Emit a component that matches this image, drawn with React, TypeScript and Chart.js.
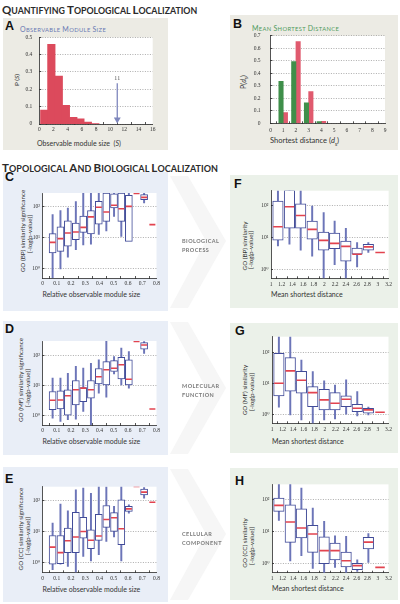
import React, { useEffect, useRef } from "react";
import { Chart, registerables } from "chart.js";
Chart.register(...registerables);

const SANS = "Lato, 'Open Sans', sans-serif";
const SERIF = "'Liberation Serif', 'DejaVu Serif', serif";
const LETTER = "'Liberation Sans', Arial, sans-serif";

// ---------------- data ----------------
// Panel A: observable module size histogram (random expectation)
const A_SIZE = [0.7, 1.7, 2.75, 3.75, 4.8, 5.8, 6.85, 7.9];
const A_PROB = [0.08, 0.46, 0.276, 0.107, 0.038, 0.03, 0.011, 0.003];
const A_MS_SIZE = 11;
const A_ARROW_TOP = 0.235;
const A_ARROW_TIP = 0.026;

// Panel B: mean shortest distance
const B_DIST = [1, 2, 3, 4];
const B_MS = [0.336, 0.493, 0.163, 0.013];
const B_RANDOM = [0.085, 0.653, 0.253, 0.016];

// log-axis ticks
const LOG_TICKS = [1, 10, 100];
const LOG_LABELS = ["10\u2070", "10\u00b9", "10\u00b2"];

// Panels C, D, E: relative observable module size positions
const REL_X = [0.071, 0.126, 0.178, 0.234, 0.286, 0.34, 0.395, 0.448, 0.502, 0.553, 0.606, 0.66, 0.713, 0.771];

const C_LO = [0.4, 1.0, 2.4, 4.2, 6.0, 6.3, 13, 17, 50, 11.3, 7.8, null, 135, null];
const C_Q1 = [3.3, 3.7, 5.4, 8.8, 15.2, 13.4, 28, 34.5, 93, 34.5, 7.8, null, 173, null];
const C_MED = [7.2, 9.5, 14.5, 15.6, 22, 48, 98, 69, 114, 88, 105, 275, 205, 27];
const C_Q3 = [13.8, 23, 36, 30, 51, 76, 152, 283, 265, 283, 237, null, 250, null];
const C_HI = [57, 76, 93, 150, 400, 400, 400, 400, 400, 400, 300, null, 283, null];

const D_LO = [0.85, 0.66, 0.75, 0.78, 1.4, 0.4, 5.7, 4.2, 25, 10.8, 8.4, null, 120, null];
const D_Q1 = [1.6, 1.7, 1.07, 2.3, 3.0, 3.9, 11.6, 10.8, 30, 17, 10.8, null, 164, null];
const D_MED = [3.3, 3.4, 4.7, 7.4, 8.4, 7.4, 20, 34, 38.5, 50, 16.6, 300, 228, 1.7];
const D_Q3 = [6.5, 6.8, 7.4, 15, 8.8, 15, 37.5, 64, 69, 89, 73, null, 272, null];
const D_HI = [18, 18, 26, 44, 38.5, 56, 73, 400, 94, 178, 138, null, 295, null];

const E_LO = [0.57, 0.87, 0.73, 0.4, 1.55, 1.1, 1.75, 4.7, 6.6, 1.1, 39, null, 120, null];
const E_Q1 = [0.87, 0.89, 2.05, 2.05, 6.1, 2.75, 5.1, 13.5, 10, 3.7, 45, null, 155, null];
const E_MED = [3.1, 2.05, 5.0, 6.6, 10, 5.2, 7.1, 24.5, 28, 12.2, 54, 288, 190, 89];
const E_Q3 = [7.4, 7.4, 12.8, 42, 29, 11.3, 36, 70, 41, 107, 65, null, 240, null];
const E_HI = [18.6, 77, 47, 225, 255, 175, 340, 285, 65, 325, 73, null, 268, null];

// Panels F, G, H: mean shortest distance positions
const DIST_X = [1.13, 1.345, 1.555, 1.77, 1.985, 2.19, 2.4, 2.61, 2.82, 3.04];

const F_LO = [5.5, 6.2, 4.0, 2.6, 0.4, 1.4, 0.4, 1.2, 3.4, null];
const F_Q1 = [8.4, 19.8, 19.8, 8.9, 4.0, 4.5, 1.8, 3.0, 4.0, null];
const F_MED = [22, 95, 50, 18.3, 8.2, 6.6, 5.3, 3.0, 5.1, 3.4];
const F_Q3 = [144, 310, 118, 33.6, 15.1, 14, 7.8, 4.7, 6.2, null];
const F_HI = [400, 400, 340, 100, 61.6, 33.6, 19.8, 6.95, 7.0, null];

const G_LO = [1.7, 0.95, 0.66, 0.4, 0.66, 0.7, 1.0, 0.88, 0.95, null];
const G_Q1 = [3.9, 5.6, 4.8, 1.77, 1.38, 1.38, 1.77, 1.22, 1.08, null];
const G_MED = [10, 25, 12.5, 5.0, 2.9, 2.27, 3.05, 1.56, 1.38, 1.16];
const G_Q3 = [93, 67, 24.4, 7.8, 6.4, 5.0, 3.9, 2.1, 1.56, null];
const G_HI = [400, 400, 56, 24, 11.9, 8.8, 12.8, 5.4, 1.7, null];

const H_LO = [22, 1.2, 1.75, 0.7, 0.4, 0.75, 0.4, 0.56, 1.07, null];
const H_Q1 = [42, 4.5, 6.2, 2.2, 0.97, 1.27, 0.77, 0.63, 2.8, null];
const H_MED = [65, 19.6, 12.7, 8.25, 2.5, 2.5, 1.2, 0.85, 4.6, 0.75];
const H_Q3 = [110, 68, 51, 15.4, 6.8, 4.3, 2.25, 1.0, 6.5, null];
const H_HI = [300, 300, 225, 53, 20.5, 7.3, 7.0, 1.28, 8.5, null];

// ---------------- styles ----------------
const AXIS_C = "#2a2a2a";
const GRID_C = "#8a8a8a";
const TICK_C = "#333";
const BOX_C = "#414b98";
const WHISK_C = "#6c75b8";
const MED_C = "#e2434f";
const HIST_C = "#dc4a5c";
const RAND_C = "#e05a6e";
const MS_GREEN = "#3f8f4a";
const MS_BLUE = "#6a72b3";
const ARROW_C = "#7f87bd";

type Geo = { cx: number; cy: number; cw: number; ch: number; l: number; t: number; r: number; b: number };

const GEO: Record<string, Geo> = {
  A: { cx: 18, cy: 30, cw: 142, ch: 104, l: 39.3, t: 37.3, r: 152.7, b: 124 },
  B: { cx: 246, cy: 28, cw: 146, ch: 106, l: 270.5, t: 35.7, r: 385, b: 123.3 },
  C: { cx: 28, cy: 186, cw: 136, ch: 102, l: 42.5, t: 193, r: 156.5, b: 278 },
  D: { cx: 28, cy: 334, cw: 136, ch: 101, l: 42.5, t: 341, r: 156.5, b: 425 },
  E: { cx: 28, cy: 480, cw: 136, ch: 102, l: 42.5, t: 486.7, r: 156.5, b: 572.3 },
  F: { cx: 254, cy: 184, cw: 141, ch: 104, l: 271, t: 190.7, r: 389, b: 278.3 },
  G: { cx: 254, cy: 330, cw: 141, ch: 103, l: 272, t: 336.7, r: 388.5, b: 423.3 },
  H: { cx: 254, cy: 478, cw: 141, ch: 104, l: 272, t: 484.3, r: 388.5, b: 572.7 },
};

const plotBg = {
  id: "plotBg",
  beforeDraw(chart: any) {
    const { ctx, chartArea } = chart;
    if (!chartArea) return;
    ctx.save();
    ctx.fillStyle = "#ffffff";
    ctx.fillRect(chartArea.left, chartArea.top, chartArea.right - chartArea.left, chartArea.bottom - chartArea.top);
    ctx.restore();
  },
};

const tickFont = { family: SERIF, size: 5.5 };

function axisX(g: Geo, min: number, max: number, step: number, pad: number, fmt: (v: number) => string) {
  return {
    type: "linear",
    min,
    max,
    offset: false,
    ticks: { stepSize: step, autoSkip: false, maxRotation: 0, minRotation: 0, padding: pad, color: TICK_C, font: tickFont, callback: (v: any) => fmt(Number(v)) },
    grid: { drawOnChartArea: false, drawTicks: true, tickLength: -2, tickColor: AXIS_C, tickWidth: 0.8 },
    border: { color: AXIS_C, width: 0.8 },
    afterFit: (s: any) => {
      s.height = g.cy + g.ch - g.b;
      s.paddingLeft = 0;
      s.paddingRight = 0;
    },
  };
}

function axisYLin(g: Geo, min: number, max: number, step: number, pad: number) {
  return {
    type: "linear",
    min,
    max,
    ticks: { stepSize: step, padding: pad, color: TICK_C, font: tickFont, callback: (v: any) => (Number(v) === 0 ? "0" : Number(v).toFixed(1)) },
    grid: { color: GRID_C, lineWidth: 0.7, drawTicks: true, tickLength: -2, tickColor: AXIS_C, tickWidth: 0.8 },
    border: { color: AXIS_C, width: 0.8, dash: [1, 1.5] },
    afterFit: (s: any) => {
      s.width = g.l - g.cx;
      s.paddingTop = 0;
      s.paddingBottom = 0;
    },
  };
}

function axisYLog(g: Geo, min: number, max: number, pad: number) {
  return {
    type: "logarithmic",
    min,
    max,
    afterBuildTicks: (s: any) => {
      s.ticks = LOG_TICKS.map((v) => ({ value: v }));
    },
    ticks: { padding: pad, color: TICK_C, font: tickFont, callback: (v: any) => LOG_LABELS[LOG_TICKS.indexOf(Number(v))] ?? "" },
    grid: { color: GRID_C, lineWidth: 0.7, drawTicks: true, tickLength: -2, tickColor: AXIS_C, tickWidth: 0.8 },
    border: { color: AXIS_C, width: 0.8, dash: [1, 1.5] },
    afterFit: (s: any) => {
      s.width = g.l - g.cx;
      s.paddingTop = 0;
      s.paddingBottom = 0;
    },
  };
}

function baseOptions(g: Geo, scales: any) {
  return {
    responsive: false,
    maintainAspectRatio: false,
    animation: false,
    devicePixelRatio: 1,
    events: [],
    layout: { padding: { top: g.t - g.cy, right: g.cx + g.cw - g.r, left: 0, bottom: 0 } },
    plugins: { legend: { display: false }, tooltip: { enabled: false } },
    scales,
  };
}

const fmt1 = (v: number) => String(Math.round(v * 10) / 10);
const fmt0 = (v: number) => String(Math.round(v));

function boxConfig(
  g: Geo,
  xs: number[],
  lo: (number | null)[],
  q1: (number | null)[],
  med: (number | null)[],
  q3: (number | null)[],
  hi: (number | null)[],
  yMin: number,
  yMax: number,
  xMin: number,
  xMax: number,
  xStep: number,
  boxW: number,
  yPad: number
) {
  const whisk: any[] = [];
  const boxes: any[] = [];
  const meds: any[] = [];
  xs.forEach((x, i) => {
    const a = lo[i], b = q1[i], c = q3[i], d = hi[i];
    if (a != null && b != null && a < b) whisk.push({ x, y: [a, b] });
    if (c != null && d != null && d > c) whisk.push({ x, y: [c, d] });
    if (b != null && c != null) boxes.push({ x, y: [b, c] });
    if (med[i] != null) meds.push({ x, y: med[i] });
  });
  return {
    type: "bar",
    data: {
      datasets: [
        {
          type: "line",
          data: meds,
          showLine: false,
          pointStyle: "line",
          pointRadius: boxW / 2 - 0.5,
          pointHoverRadius: boxW / 2 - 0.5,
          pointBorderColor: MED_C,
          pointBorderWidth: 1.6,
          borderColor: MED_C,
          order: 1,
        },
        {
          type: "bar",
          data: boxes,
          backgroundColor: "#ffffff",
          borderColor: BOX_C,
          borderWidth: 1,
          borderSkipped: false,
          barThickness: boxW,
          grouped: false,
          order: 2,
        },
        {
          type: "bar",
          data: whisk,
          backgroundColor: WHISK_C,
          barThickness: 1.3,
          grouped: false,
          order: 3,
        },
      ],
    },
    options: baseOptions(g, {
      x: axisX(g, xMin, xMax, xStep, 4.5, fmt1),
      y: axisYLog(g, yMin, yMax, yPad),
    }),
    plugins: [plotBg],
  };
}

function configA() {
  const g = GEO.A;
  const msLabel = {
    id: "msLabel",
    afterDatasetsDraw(chart: any) {
      const { ctx, scales } = chart;
      const x = scales.x.getPixelForValue(A_MS_SIZE);
      const y = scales.y.getPixelForValue(A_ARROW_TOP);
      ctx.save();
      ctx.fillStyle = "#555";
      ctx.font = `6px ${SERIF}`;
      ctx.textAlign = "center";
      ctx.textBaseline = "bottom";
      ctx.fillText(String(A_MS_SIZE), x, y - 2);
      ctx.restore();
    },
  };
  return {
    type: "bar",
    data: {
      datasets: [
        {
          type: "line",
          data: [
            { x: A_MS_SIZE, y: A_ARROW_TOP },
            { x: A_MS_SIZE, y: A_ARROW_TIP },
          ],
          borderColor: ARROW_C,
          borderWidth: 1.3,
          pointStyle: "triangle",
          pointRotation: 180,
          pointRadius: [0, 4],
          pointBackgroundColor: ARROW_C,
          pointBorderWidth: 0,
          order: 1,
        },
        {
          type: "bar",
          data: A_SIZE.map((x, i) => ({ x, y: A_PROB[i] })),
          backgroundColor: HIST_C,
          barThickness: 7.5,
          grouped: false,
          order: 2,
        },
      ],
    },
    options: baseOptions(g, {
      x: axisX(g, 0, 16, 2, 4.5, fmt0),
      y: axisYLin(g, 0, 0.5, 0.1, 9),
    }),
    plugins: [plotBg, msLabel],
  };
}

function configB() {
  const g = GEO.B;
  return {
    type: "bar",
    data: {
      datasets: [
        { data: B_DIST.map((x, i) => ({ x, y: B_MS[i] })), backgroundColor: MS_GREEN, barThickness: 4.4 },
        { data: B_DIST.map((x, i) => ({ x, y: B_RANDOM[i] })), backgroundColor: RAND_C, barThickness: 4.4 },
      ],
    },
    options: baseOptions(g, {
      x: axisX(g, 0, 9, 1, 6, fmt0),
      y: axisYLin(g, 0, 0.7, 0.1, 12),
    }),
    plugins: [plotBg],
  };
}

const CONFIGS: Record<string, () => any> = {
  A: configA,
  B: configB,
  C: () => boxConfig(GEO.C, REL_X, C_LO, C_Q1, C_MED, C_Q3, C_HI, 0.51, 283, 0, 0.8, 0.1, 7, 4.5),
  D: () => boxConfig(GEO.D, REL_X, D_LO, D_Q1, D_MED, D_Q3, D_HI, 0.5, 308, 0, 0.8, 0.1, 7, 4.5),
  E: () => boxConfig(GEO.E, REL_X, E_LO, E_Q1, E_MED, E_Q3, E_HI, 0.47, 285, 0, 0.8, 0.1, 7, 4.5),
  F: () => boxConfig(GEO.F, DIST_X, F_LO, F_Q1, F_MED, F_Q3, F_HI, 0.52, 304, 1, 3.2, 0.2, 10.5, 4.5),
  G: () => boxConfig(GEO.G, DIST_X, G_LO, G_Q1, G_MED, G_Q3, G_HI, 0.51, 318, 1, 3.2, 0.2, 10.5, 4.5),
  H: () => boxConfig(GEO.H, DIST_X, H_LO, H_Q1, H_MED, H_Q3, H_HI, 0.51, 295, 1, 3.2, 0.2, 10.5, 4.5),
};

function ChartCanvas({ id }: { id: string }) {
  const ref = useRef<HTMLCanvasElement>(null);
  const g = GEO[id];
  useEffect(() => {
    const chart = new Chart(ref.current as HTMLCanvasElement, CONFIGS[id]() as any);
    return () => chart.destroy();
  }, [id]);
  return (
    <canvas
      ref={ref}
      width={g.cw}
      height={g.ch}
      style={{ position: "absolute", left: g.cx, top: g.cy, width: g.cw, height: g.ch }}
    />
  );
}

// ---------------- text helpers ----------------
function Txt(p: { x: number; y: number; size: number; color?: string; weight?: any; family?: string; ls?: number; right?: boolean; italic?: boolean; children: any; lh?: number; gray?: boolean }) {
  const style: any = {
    position: "absolute",
    top: p.y,
    fontSize: p.size,
    lineHeight: `${p.lh ?? p.size}px`,
    color: p.color ?? "#333",
    fontWeight: p.weight ?? 400,
    fontFamily: p.family ?? SANS,
    letterSpacing: p.ls ?? 0,
    whiteSpace: "nowrap",
    fontStyle: p.italic ? "italic" : "normal",
  };
  if (p.gray) {
    style.willChange = "transform";
    style.WebkitFontSmoothing = "antialiased";
  }
  if (p.right) style.right = 400 - p.x;
  else style.left = p.x;
  return <div style={style}>{p.children}</div>;
}

function Rot(p: { cx: number; cy: number; size: number; children: any; color?: string }) {
  return (
    <div
      style={{
        position: "absolute",
        left: p.cx,
        top: p.cy,
        fontSize: p.size,
        lineHeight: `${p.size}px`,
        fontFamily: SANS,
        color: p.color ?? "#333",
        whiteSpace: "nowrap",
        transform: "translate(-50%, -50%) rotate(-90deg)",
      }}
    >
      {p.children}
    </div>
  );
}

function SmallCaps(p: { x: number; y: number; text: string; big: number; small: number; color: string; weight: any; ls?: number }) {
  const words = p.text.split(" ");
  return (
    <div
      style={{
        position: "absolute",
        left: p.x,
        top: p.y,
        color: p.color,
        fontWeight: p.weight,
        fontFamily: SANS,
        letterSpacing: p.ls ?? 0,
        whiteSpace: "nowrap",
        lineHeight: `${p.big + 2}px`,
      }}
    >
      {words.map((w, i) => (
        <React.Fragment key={i}>
          {i > 0 ? <span style={{ fontSize: p.small }}> </span> : null}
          <span style={{ fontSize: p.big }}>{w[0]}</span>
          <span style={{ fontSize: p.small }}>{w.slice(1)}</span>
        </React.Fragment>
      ))}
    </div>
  );
}

function Panel(p: { x: number; y: number; w: number; h: number; color: string }) {
  return <div style={{ position: "absolute", left: p.x, top: p.y, width: p.w, height: p.h, background: p.color }} />;
}

function Swatch(p: { x: number; y: number; color: string }) {
  return <div style={{ position: "absolute", left: p.x, top: p.y, width: 9, height: 4, background: p.color }} />;
}

const BEIGE = "#ecebe4";
const BLUE_BG = "#e9eef7";
const GREEN_BG = "#ebf1e9";

export default function App() {
  return (
    <div style={{ position: "absolute", left: 0, top: 0, width: 400, height: 604, background: "#fff", overflow: "hidden" }}>
      {/* chevrons */}
      <svg width={400} height={604} style={{ position: "absolute", left: 0, top: 0 }}>
        {[
          [176, 241, 308],
          [322, 388, 454],
          [469, 534, 600],
        ].map(([t, m, b], i) => (
          <polygon
            key={i}
            points={`170,${t} 188,${t} 226,${m} 188,${b} 170,${b} 206,${m}`}
            fill="#f6f6f6"
          />
        ))}
      </svg>

      <Panel x={3} y={18} w={165} h={132} color={BEIGE} />
      <Panel x={230} y={15} w={168} h={135} color={BEIGE} />
      <Panel x={3} y={172} w={165} h={139} color={BLUE_BG} />
      <Panel x={3} y={321} w={165} h={134} color={BLUE_BG} />
      <Panel x={3} y={467} w={165} h={135} color={BLUE_BG} />
      <Panel x={230} y={175} w={168} h={133} color={GREEN_BG} />
      <Panel x={230} y={323} w={168} h={130} color={GREEN_BG} />
      <Panel x={230} y={468} w={168} h={132} color={GREEN_BG} />

      <SmallCaps x={2} y={1} text="QUANTIFYING TOPOLOGICAL LOCALIZATION" big={11.5} small={8.8} color="#2b2b2b" weight={700} ls={0} />
      <SmallCaps x={2} y={159} text="TOPOLOGICAL AND BIOLOGICAL LOCALIZATION" big={11.5} small={9} color="#2b2b2b" weight={700} ls={0.05} />

      {/* panel letters */}
      <Txt x={5} y={20} size={12.5} weight={700} family={LETTER} color="#111">A</Txt>
      <Txt x={233} y={18.4} size={12.5} weight={700} family={LETTER} color="#111">B</Txt>
      <Txt x={5} y={171.4} size={12.5} weight={700} family={LETTER} color="#111">C</Txt>
      <Txt x={5} y={323.4} size={12.5} weight={700} family={LETTER} color="#111">D</Txt>
      <Txt x={5} y={473.4} size={12.5} weight={700} family={LETTER} color="#111">E</Txt>
      <Txt x={234} y={178.4} size={12.5} weight={700} family={LETTER} color="#111">F</Txt>
      <Txt x={235} y={325.4} size={12.5} weight={700} family={LETTER} color="#111">G</Txt>
      <Txt x={235} y={475.4} size={12.5} weight={700} family={LETTER} color="#111">H</Txt>

      {/* subtitles */}
      <SmallCaps x={20} y={21} text="OBSERVABLE MODULE SIZE" big={7} small={5.8} color="#6a79b3" weight={400} ls={0.35} />
      <SmallCaps x={252} y={19.5} text="MEAN SHORTEST DISTANCE" big={7} small={5.8} color="#4e9a5c" weight={400} ls={0.35} />

      {/* legends */}
      <Txt x={139} y={37.5} size={7} right>Random</Txt>
      <Swatch x={143.3} y={39.3} color={HIST_C} />
      <Txt x={139} y={45} size={7} right>Multiple sclerosis</Txt>
      <Swatch x={143.3} y={46.8} color={MS_BLUE} />

      <Txt x={372} y={37.5} size={8} right>Random</Txt>
      <Swatch x={375} y={40} color={RAND_C} />
      <Txt x={372} y={51} size={8} right>Multiple sclerosis</Txt>
      <Swatch x={375} y={52.7} color={MS_GREEN} />

      {/* axis titles A/B */}
      <Rot cx={17} cy={80} size={6.5}>P (<i>S</i>)</Rot>
      <Txt x={37} y={140} size={7}>Observable module size&nbsp;&nbsp;(<i>S</i>)</Txt>
      <Rot cx={245} cy={82} size={7}>P(<i>d</i><sub style={{ fontSize: 5 }}>s</sub>)</Rot>
      <Txt x={270} y={136.5} size={7.5}>Shortest distance (<i>d</i><sub style={{ fontSize: 5 }}>s</sub>)</Txt>

      {/* C/D/E axis titles */}
      <Rot cx={22.5} cy={231} size={6.3}>GO (BP) similarity significance</Rot>
      <Rot cx={29.5} cy={234} size={6.3}>[-log(p-value)]</Rot>
      <Txt x={42.5} y={291} size={7}>Relative observable module size</Txt>

      <Rot cx={20.5} cy={380} size={6.3}>GO (MF) similarity significance</Rot>
      <Rot cx={27.5} cy={388} size={6.3}>[-log(p-value)]</Rot>
      <Txt x={42.5} y={437.7} size={7}>Relative observable module size</Txt>

      <Rot cx={21} cy={529} size={6.3}>GO (CC) similarity significance</Rot>
      <Rot cx={28} cy={536} size={6.3}>[-log(p-value)]</Rot>
      <Txt x={42.5} y={586} size={7}>Relative observable module size</Txt>

      {/* F/G/H axis titles */}
      <Rot cx={244.5} cy={246} size={6.3}>GO (BP) similarity</Rot>
      <Rot cx={251} cy={250} size={6.3}>[-log(p-value)]</Rot>
      <Txt x={271} y={291} size={7}>Mean shortest distance</Txt>

      <Rot cx={245} cy={390} size={6.3}>GO (MF) similarity</Rot>
      <Rot cx={251.5} cy={392} size={6.3}>[-log(p-value)]</Rot>
      <Txt x={272} y={437.7} size={7}>Mean shortest distance</Txt>

      <Rot cx={245} cy={543} size={6.3}>GO (CC) similarity</Rot>
      <Rot cx={251.5} cy={546} size={6.3}>[-log(p-value)]</Rot>
      <Txt x={272} y={584.5} size={7}>Mean shortest distance</Txt>

      {/* middle labels */}
      <Txt x={182} y={236.8} size={5.5} lh={8.5} weight={700} color="#7a7a7a" ls={0.45} gray>
        BIOLOGICAL<br />PROCESS
      </Txt>
      <Txt x={182} y={381.8} size={5.5} lh={8.5} weight={700} color="#7a7a7a" ls={0.45} gray>
        MOLECULAR<br />FUNCTION
      </Txt>
      <Txt x={182} y={529.8} size={5.5} lh={8.5} weight={700} color="#7a7a7a" ls={0.45} gray>
        CELLULAR<br />COMPONENT
      </Txt>

      {["A", "B", "C", "D", "E", "F", "G", "H"].map((id) => (
        <ChartCanvas key={id} id={id} />
      ))}
    </div>
  );
}
